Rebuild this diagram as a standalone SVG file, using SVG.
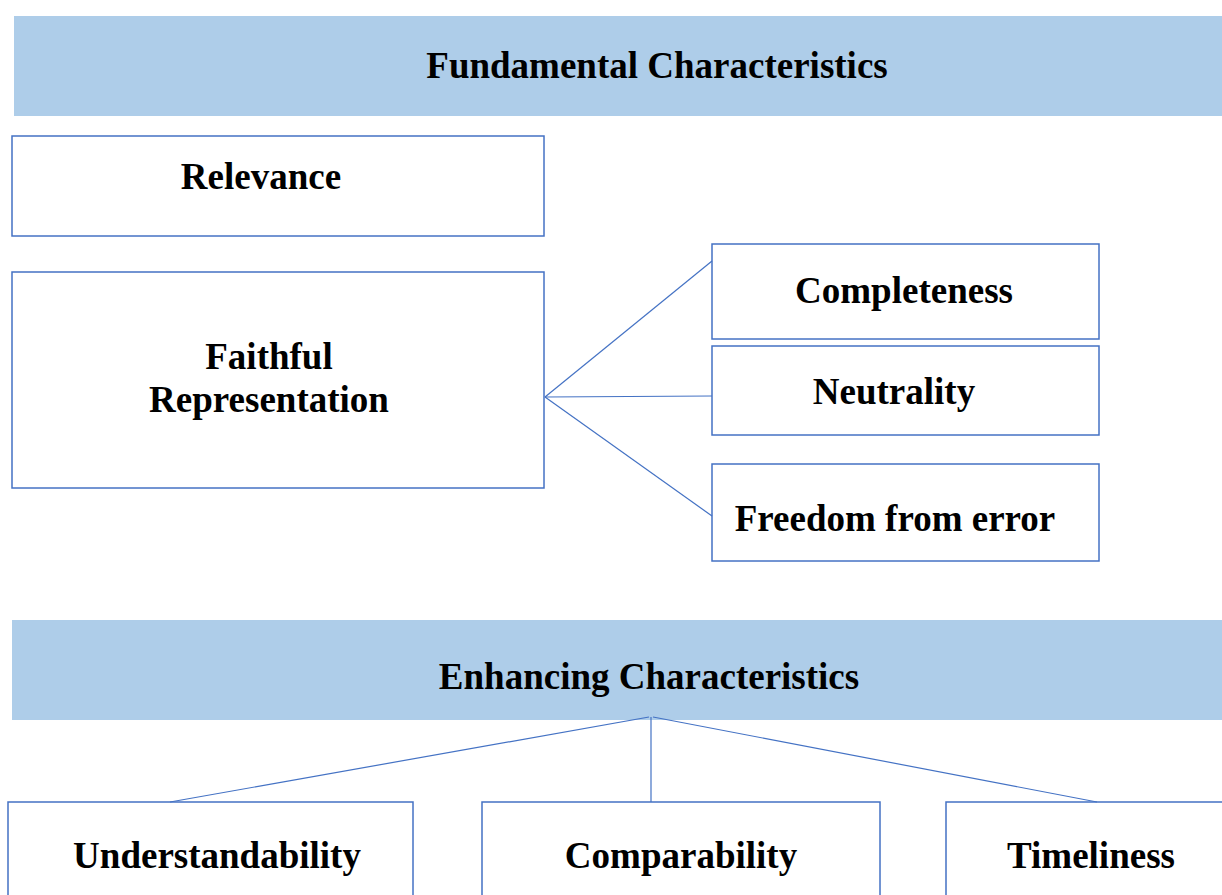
<svg xmlns="http://www.w3.org/2000/svg" width="1222" height="895" viewBox="0 0 1222 895">
<style>
.banner{fill:#aecde9;stroke:none}
.box{fill:#fff;stroke:#4472c4;stroke-width:1.5}
.t{font-family:"Liberation Serif","Times New Roman",serif;font-weight:bold;font-size:37px;fill:#000;text-anchor:middle}
.c{stroke:#4472c4;stroke-width:1.2;fill:none}
</style>
<rect width="1222" height="895" fill="#fff"/>
<g id="fundamental">
<rect class="banner" x="14" y="16" width="1208" height="100"/>
<text class="t" x="657" y="78">Fundamental Characteristics</text>
</g>
<g id="relevance">
<rect class="box" x="12" y="136" width="532" height="100"/>
<text class="t" x="261" y="189">Relevance</text>
</g>
<g id="faithful">
<rect class="box" x="12" y="272" width="532" height="216"/>
<text class="t" x="269" y="369">Faithful</text>
<text class="t" x="269" y="412">Representation</text>
</g>
<g id="completeness">
<rect class="box" x="712" y="244" width="387" height="95"/>
<text class="t" x="904" y="303">Completeness</text>
</g>
<g id="neutrality">
<rect class="box" x="712" y="346" width="387" height="89"/>
<text class="t" x="894" y="404">Neutrality</text>
</g>
<g id="freedom">
<rect class="box" x="712" y="464" width="387" height="97"/>
<text class="t" x="895" y="531">Freedom from error</text>
</g>
<g id="enhancing">
<rect class="banner" x="12" y="620" width="1210" height="100"/>
<text class="t" x="649" y="689">Enhancing Characteristics</text>
</g>
<g id="understandability">
<rect class="box" x="8" y="802" width="405" height="100"/>
<text class="t" x="217" y="868">Understandability</text>
</g>
<g id="comparability">
<rect class="box" x="482" y="802" width="398" height="100"/>
<text class="t" x="681" y="868">Comparability</text>
</g>
<g id="timeliness">
<rect class="box" x="946" y="802" width="290" height="100"/>
<text class="t" x="1091" y="868">Timeliness</text>
</g>
<g id="connectors">
<line class="c" x1="545" y1="397" x2="712" y2="261"/>
<line class="c" x1="545" y1="397" x2="712" y2="396"/>
<line class="c" x1="545" y1="397" x2="712" y2="516"/>
<line class="c" x1="649" y1="717" x2="170" y2="802"/>
<line class="c" x1="651" y1="717" x2="651" y2="802"/>
<line class="c" x1="653" y1="717" x2="1097" y2="802"/>
</g>
</svg>
